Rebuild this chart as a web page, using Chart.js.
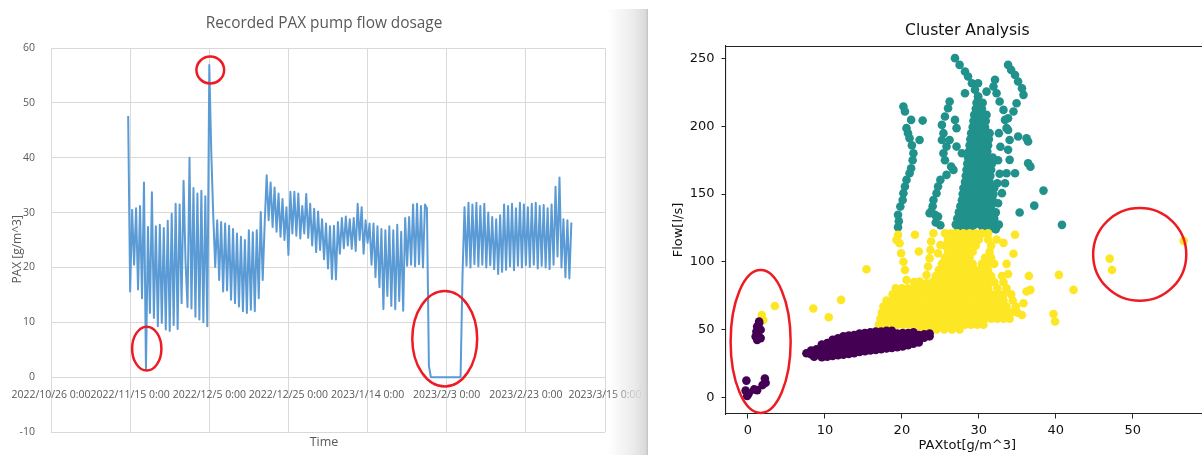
<!DOCTYPE html>
<html>
<head>
<meta charset="utf-8">
<title>PAX dosage and cluster analysis</title>
<script src="https://cdn.jsdelivr.net/npm/chart.js@4.4.1/dist/chart.umd.min.js"></script>
<style>
  html, body { margin: 0; padding: 0; background: #fff; overflow: hidden; }
  #wrap { position: relative; width: 1202px; height: 455px; overflow: hidden; background: #fff; }
  #pax { position: absolute; left: 0; top: 0; width: 648px; height: 455px; }
  #cluster { position: absolute; left: 648px; top: 0; width: 567px; height: 455px; }
  #divider {
    position: absolute; left: 608px; top: 9px; width: 40px; height: 446px;
    background: linear-gradient(to right, rgba(236,236,236,0) 0%, rgba(230,230,230,0.8) 65%, #dadada 94%, #c2c2c2 100%);
  }
</style>
</head>
<body>
<div id="wrap">
  <canvas id="pax" width="648" height="455"></canvas>
  <div id="divider"></div>
  <canvas id="cluster" width="567" height="455"></canvas>
</div>
<script>
// ---------- Recorded PAX pump flow dosage ----------
// x axis: days after 2022/10/26 0:00
const timeTickDays = [0, 20, 40, 60, 80, 100, 120, 140];
const timeTickLabels = ['2022/10/26 0:00', '2022/11/15 0:00', '2022/12/5 0:00', '2022/12/25 0:00',
                        '2023/1/14 0:00', '2023/2/3 0:00', '2023/2/23 0:00', '2023/3/15 0:00'];
const paxTicks = [-10, 0, 10, 20, 30, 40, 50, 60];

const paxFirstDay = 19.5;  // first logged reading (2022/11/14 12:00)
const paxStepDays = 0.5;   // one reading every 12 hours
// PAX dosage [g/m^3]
const paxValues = [
  47.6, 15.6, 30.5, 20.5, 30.8, 16.0, 31.2, 14.4, 35.5, 1.5,
  27.4, 11.7, 33.7, 10.8, 27.5, 9.3, 27.8, 9.9, 27.2, 8.7,
  28.5, 8.4, 29.8, 9.5, 31.6, 8.8, 31.5, 13.5, 35.8, 21.0,
  12.8, 40.0, 12.5, 34.5, 11.0, 33.5, 10.5, 34.0, 10.0, 33.0,
  9.3, 56.9, 41.0, 29.5, 20.1, 28.6, 17.7, 28.3, 15.6, 28.0,
  15.8, 27.6, 14.1, 27.0, 13.5, 26.2, 12.9, 25.6, 12.0, 25.0,
  11.7, 26.8, 12.3, 26.4, 12.0, 26.8, 14.4, 30.1, 17.7, 28.0,
  36.8, 28.6, 35.5, 27.4, 34.6, 26.5, 33.5, 25.6, 32.5, 25.0,
  31.0, 22.3, 33.8, 26.2, 33.8, 25.8, 33.5, 25.3, 31.2, 26.2,
  33.4, 25.4, 31.6, 24.0, 30.7, 22.8, 30.2, 23.2, 28.8, 21.5,
  28.0, 19.8, 27.5, 17.9, 27.6, 17.8, 28.3, 22.5, 29.0, 23.5,
  29.3, 24.0, 28.8, 23.4, 29.0, 23.0, 31.6, 25.0, 31.0, 22.5,
  28.6, 24.5, 28.0, 20.5, 28.0, 18.2, 27.5, 16.4, 27.0, 12.4,
  26.8, 14.8, 27.5, 13.0, 26.8, 12.4, 27.8, 13.9, 26.5, 12.1,
  29.0, 20.3, 29.2, 20.5, 31.5, 20.2, 31.6, 20.6, 31.2, 20.0,
  31.5, 30.8, 2.0, 0, 0, 0, 0, 0, 0, 0,
  0, 0, 0, 0, 0, 0, 0, 0, 0, 18.8,
  31.0, 20.3, 31.8, 20.0, 31.5, 20.6, 31.8, 20.2, 31.2, 20.5,
  31.6, 20.0, 30.0, 20.4, 29.2, 19.7, 28.8, 18.8, 29.5, 19.2,
  31.5, 19.6, 31.2, 20.2, 31.6, 19.5, 30.8, 20.3, 31.8, 20.0,
  31.5, 20.4, 31.0, 20.1, 31.6, 20.5, 31.8, 19.8, 31.2, 20.3,
  31.4, 20.0, 30.8, 19.7, 31.5, 20.5, 34.7, 22.0, 36.4, 20.0,
  28.8, 18.2, 28.6, 18.0, 28.2
];

// ---------- Cluster Analysis ----------
const paxTotTicks = [0, 10, 20, 30, 40, 50];
const flowTicks = [0, 50, 100, 150, 200, 250];

// low-flow cluster: [PAXtot, Flow]
const lowFlowPoints = [
  [1.0,44.9],[1.2,42.4],[1.65,43.7],[1.1,48.5],[1.65,49.8],[1.2,52.2],[1.45,54.7],[1.45,55.9],
  [-0.2,12.3],[-0.3,4.9],[0.1,2.9],[-0.1,0.9],[0.8,5.8],[1.2,5.3],[1.9,9.0],[2.2,13.9],[2.3,10.7],
  [7.6,32.5],[8.2,31.8],[8.2,34.5],[8.6,30.0],[8.9,32],[8.9,35.5],[9.6,29.5],[9.6,32.5],[9.6,36],[9.6,39],
  [10.3,30],[10.3,33],[10.3,36.5],[10.3,40],[11.0,30.5],[11.0,33.5],[11.0,37],[11.0,40.5],[11.0,42.5],
  [11.7,31],[11.7,34],[11.7,37.5],[11.7,41],[11.7,43.5],[12.4,31.5],[12.4,34.5],[12.4,38],[12.4,41.5],[12.4,45],
  [13.1,32],[13.1,35],[13.1,38.5],[13.1,42],[13.1,45.5],[13.8,32.5],[13.8,35.5],[13.8,39],[13.8,42.5],[13.8,46],
  [14.5,33.5],[14.5,36.5],[14.5,40],[14.5,43.5],[14.5,47],[15.2,34],[15.2,37],[15.2,40.5],[15.2,44],[15.2,47.5],
  [15.9,34.5],[15.9,37.5],[15.9,41],[15.9,44.5],[15.9,48],[16.6,35],[16.6,38],[16.6,41.5],[16.6,45],[16.6,48.5],
  [17.3,35.5],[17.3,38.5],[17.3,42],[17.3,45.5],[17.3,48.5],[18.0,36],[18.0,39],[18.0,42.5],[18.0,46],[18.0,49],
  [18.7,36.5],[18.7,39.5],[18.7,43],[18.7,46.5],[18.7,49],[19.4,37],[19.4,40],[19.4,43.5],[19.4,47],
  [20.1,37.5],[20.1,40.5],[20.1,44],[20.1,47.5],[20.8,38.5],[20.8,41.5],[20.8,44.5],[20.8,47.5],
  [21.5,39.5],[21.5,42],[21.5,45],[21.5,48],[22.2,40.5],[22.2,43],[22.2,46],[22.9,44],[22.9,46.5],[23.6,45],[23.6,47]
];

// mid-flow cluster: scattered readings [PAXtot, Flow]
const midFlowPoints = [
  [1.8,60.8],[2.0,57.1],[3.5,67.4],[8.5,65.5],[10.5,59.1],[12.1,71.9],[15.4,94.5],
  [36.5,89.6],[36.7,79.3],[40.4,90.4],[42.3,79.3],[39.7,61.5],[39.9,56],
  [47.0,102.4],[47.3,94],[56.6,115.5],
  [19.5,119.9],[19.3,116.2],[19.7,113.7],[19.9,106.3],[20.2,100.1],[20.4,94],[20.6,86.6],
  [21.7,120],[22.2,107.6],[22.3,85.4],[22.8,83],
  [24.1,121.1],[23.8,115],[23.7,108.8],[23.6,102.6],[23.4,96.5],[23.2,90.3],[23.2,84.2],
  [25.0,112.4],[24.7,106.3],[34.7,120],[33.2,114],[32.3,116.5],[34.5,106],[33.6,98.5],[33.8,91],
  [36.2,78.1],[35.8,69.4],[35.6,60.8]
];
// mid-flow cluster, dense part: [Flow, [PAXtot readings at that flow]]
const midFlowRows = [
  [121,   [25.6,26.4,27.2,28.0,28.8,29.6,30.4,31.2]],
  [116.5, [26.0,26.8,27.6,28.4,29.2,30.0,31.2]],
  [112,   [25.6,26.4,27.2,28.0,28.8,29.6,31.6]],
  [107.5, [26.0,26.8,27.6,28.4,29.2,31.4]],
  [103,   [25.6,26.4,27.2,28.0,28.8,30.8,31.6]],
  [98.5,  [25.2,26.0,26.8,27.6,28.4,29.2,30.4,31.2,32.0]],
  [94,    [24.8,25.6,26.4,27.2,28.0,28.8,29.6,30.4,31.2]],
  [89.5,  [24.4,25.2,26.0,26.8,27.6,28.4,29.2,30.0,30.8,31.6,33.0]],
  [85,    [21.6,24.0,24.8,25.6,26.4,27.2,28.0,28.8,29.6,30.4,31.2,32.0,33.2]],
  [80.5,  [19.2,20.0,20.8,21.6,22.4,23.2,24.0,24.8,25.6,26.4,27.2,28.0,28.8,29.6,30.4,31.2,32.4,33.6]],
  [76,    [18.8,19.6,20.4,21.2,22.0,22.8,23.6,24.4,25.2,26.0,26.8,27.6,28.4,29.2,30.0,30.8,31.6,32.4,33.2,34.2]],
  [71.5,  [18.0,18.8,19.6,20.4,21.2,22.0,22.8,23.6,24.4,25.2,26.0,26.8,27.6,28.4,29.2,30.0,30.8,31.6,32.4,33.2,34.4]],
  [67,    [17.6,18.4,19.2,20.0,20.8,21.6,22.4,23.2,24.0,24.8,25.6,26.4,27.2,28.0,28.8,29.6,30.4,31.2,32.0,32.8,33.6,34.8]],
  [62.5,  [17.4,18.2,19.0,19.8,20.6,21.4,22.2,23.0,23.8,24.6,25.4,26.2,27.0,27.8,28.6,29.4,30.2,31.0,31.8,32.6,33.4,34.2,35.0]],
  [58,    [17.2,18.0,18.8,19.6,20.4,21.2,22.0,22.8,23.6,24.4,25.2,26.0,26.8,27.6,28.4,29.2,30.0,30.8,31.6,32.4,33.2,34.0]],
  [53.5,  [17.0,17.8,18.6,19.4,20.2,21.0,21.8,22.6,23.4,24.2,25.0,25.8,26.6,27.4,28.2,29.0,29.8,30.6]],
  [50,    [22.5,23.5,24.5,25.5,26.5,27.5]]
];

// high-flow cluster: scattered readings [PAXtot, Flow]
const highFlowPoints = [
  [20.2,214.7],[20.4,211],[21.2,204.8],[22.7,204.3],[20.6,198.7],[20.8,195],[21.0,191.3],[22.3,190],
  [21.3,186],[21.5,180.2],[21.4,175],[21.2,169.1],[21.0,165.4],[20.6,160.5],[20.4,155.6],[20.2,150.7],
  [20.1,145.7],[19.8,140.8],[19.5,134.7],[19.6,130],[19.5,125.5],
  [26.2,218.4],[26.0,213.4],[25.6,207.3],[26.9,204.8],[27.1,198.7],[25.2,201.1],[25.4,195],[25.2,190],
  [26.2,190],[25.8,185.1],[27.1,185.1],[27.8,180.2],[25.4,180.2],[25.6,175],[26.4,170.3],[26.7,167.9],
  [25.8,164.2],[25.0,160.5],[24.7,155.6],[24.5,150.7],[24.1,145.7],[24.0,141],[23.8,137.1],[24.3,134.7],
  [23.6,135.9],[24.7,133.4],[24.4,129],[25.0,127],
  [26.9,250.4],[27.5,245.4],[28.2,240.5],[28.6,236.8],[29.1,231.9],[29.5,227],[29.9,222.1],[28.2,224.5],
  [29.9,231.9],[31.0,225.7],[32.1,234.4],[31.9,229.4],[32.3,224.5],[32.7,218.4],[33.2,212.2],[33.4,204.8],
  [33.6,198.7],
  [33.8,245.4],[34.2,241.7],[34.7,238],[35.1,233.1],[35.6,228.2],[35.8,223.3],[34.9,217.1],[34.5,211],
  [33.8,206],[33.8,197.4],[34.0,190],[33.8,182.7],[34.0,175.3],[33.6,165.4],[33.4,158],[33.0,150.7],
  [32.5,143.3],[32.1,135.9],[31.9,129.7],[32.6,195],[32.8,185],[32.5,175],[32.7,165],[32.4,158],
  [35.1,192.5],[36.2,191.3],[36.4,188.8],[36.4,172.8],[36.7,170.3],[34.7,165.4],[38.4,152.6],
  [37.2,141.5],[35.3,136.4],[40.8,127.3]
];
// high-flow cluster, dense part: [Flow, [PAXtot readings at that flow]]
const highFlowRows = [
  [222,   [29.9]],
  [217.5, [29.7,30.5]],
  [213,   [29.6,30.4]],
  [208.5, [29.4,30.2,31.0]],
  [204,   [29.3,30.1,30.9]],
  [199.5, [29.2,30.0,30.8]],
  [195,   [29.0,29.8,30.6,31.4]],
  [190.5, [28.9,29.7,30.5,31.3]],
  [186,   [28.8,29.6,30.4,31.2]],
  [181.5, [28.7,29.5,30.3,31.1]],
  [177,   [28.6,29.4,30.2,31.0,31.8]],
  [172.5, [28.5,29.3,30.1,30.9,31.7]],
  [168,   [28.4,29.2,30.0,30.8,31.6]],
  [163.5, [28.3,29.1,29.9,30.7,31.5]],
  [159,   [28.2,29.0,29.8,30.6,31.4]],
  [154.5, [28.0,28.8,29.6,30.4,31.2,32.0]],
  [150,   [27.9,28.7,29.5,30.3,31.1,31.9]],
  [145.5, [27.8,28.6,29.4,30.2,31.0,31.8]],
  [141,   [27.6,28.4,29.2,30.0,30.8,31.6]],
  [136.5, [27.4,28.2,29.0,29.8,30.6,31.4,32.2]],
  [132,   [27.2,28.0,28.8,29.6,30.4,31.2,32.0]],
  [127.5, [27.0,27.8,28.6,29.4,30.2,31.0,31.8,32.6]],
  [124,   [27.4,28.2,29.0,30.6,31.4,32.2]]
];

// ---------- helpers ----------
const pairsToPoints = pairs => pairs.map(([x, y]) => ({ x, y }));
const rowsToPoints = rows => rows.flatMap(([y, xs]) => xs.map(x => ({ x, y })));

// red rings marking notable readings (drawn in data units)
const ringPlugin = {
  id: 'rings',
  afterDraw(chart, args, opts) {
    const { ctx, scales: { x, y } } = chart;
    ctx.save();
    ctx.strokeStyle = opts.color;
    ctx.lineWidth = opts.width;
    for (const r of opts.items) {
      const cx = x.getPixelForValue(r.x);
      const cy = y.getPixelForValue(r.y);
      const rx = Math.abs(x.getPixelForValue(r.x + r.rx) - cx);
      const ry = Math.abs(y.getPixelForValue(r.y + r.ry) - cy);
      ctx.beginPath();
      ctx.ellipse(cx, cy, rx, ry, 0, 0, Math.PI * 2);
      ctx.stroke();
    }
    ctx.restore();
  }
};

// closes the axes box (top and right spines)
const framePlugin = {
  id: 'frame',
  beforeDatasetsDraw(chart, args, opts) {
    const { ctx, chartArea: a } = chart;
    ctx.save();
    ctx.strokeStyle = opts.color;
    ctx.lineWidth = opts.width;
    ctx.beginPath();
    ctx.moveTo(a.left, a.top + 0.5);
    ctx.lineTo(a.right, a.top + 0.5);
    ctx.lineTo(a.right, a.bottom);
    ctx.stroke();
    ctx.restore();
  }
};

const excelGray = '#595959';
const excelFont = "'Open Sans', 'Noto Sans', sans-serif";

// ---------- left: line chart ----------
new Chart(document.getElementById('pax'), {
  type: 'line',
  data: {
    datasets: [{
      data: paxValues.map((v, i) => ({ x: paxFirstDay + i * paxStepDays, y: v })),
      borderColor: '#5b9bd5',
      borderWidth: 2,
      pointRadius: 0,
      tension: 0,
      fill: false,
      borderJoinStyle: 'round'
    }]
  },
  plugins: [ringPlugin],
  options: {
    responsive: false,
    animation: false,
    events: [],
    layout: { padding: 0 },
    plugins: {
      legend: { display: false },
      tooltip: { enabled: false },
      title: {
        display: true,
        text: 'Recorded PAX pump flow dosage',
        color: excelGray,
        font: { family: excelFont, size: 15.4, weight: 'normal' },
        padding: { top: 14.8, bottom: 14.8 }
      },
      subtitle: {
        display: true,
        position: 'bottom',
        text: 'Time',
        color: excelGray,
        font: { family: excelFont, size: 12.5, weight: 'normal' },
        padding: { top: 2.5, bottom: 5.5 }
      },
      rings: {
        color: '#ed1c24',
        width: 2.5,
        items: [
          { x: 24.2, y: 5.2, rx: 3.7, ry: 4.0 },
          { x: 40.25, y: 56.0, rx: 3.5, ry: 2.45 },
          { x: 99.5, y: 7.0, rx: 8.2, ry: 8.7 }
        ]
      }
    },
    scales: {
      x: {
        type: 'linear',
        position: { y: 0 },
        min: timeTickDays[0],
        max: timeTickDays[timeTickDays.length - 1],
        afterBuildTicks: s => { s.ticks = timeTickDays.map(v => ({ value: v })); },
        afterFit: s => { s.height = 0; s.paddingLeft = 0; s.paddingRight = 43; },
        ticks: {
          autoSkip: false,
          maxRotation: 0,
          padding: 12,
          color: excelGray,
          font: { family: excelFont, size: 10.5 },
          callback: (v, i) => timeTickLabels[i]
        },
        grid: { color: '#d9d9d9', lineWidth: 1, drawTicks: false },
        border: { display: false }
      },
      y: {
        min: paxTicks[0],
        max: paxTicks[paxTicks.length - 1],
        afterBuildTicks: s => { s.ticks = paxTicks.map(v => ({ value: v })); },
        afterFit: s => { s.width = 51; },
        ticks: {
          padding: 16,
          color: excelGray,
          font: { family: excelFont, size: 10.5 }
        },
        grid: { color: '#d9d9d9', lineWidth: 1, drawTicks: false },
        border: { display: false },
        title: {
          display: true,
          text: 'PAX [g/m^3]      ',
          color: excelGray,
          font: { family: excelFont, size: 12 },
          padding: { top: 10, bottom: 0 }
        }
      }
    }
  }
});

// ---------- right: scatter ----------
const mplFont = "'DejaVu Sans', sans-serif";
const mplText = '#111';

new Chart(document.getElementById('cluster'), {
  type: 'scatter',
  data: {
    datasets: [
      { label: 'low', data: pairsToPoints(lowFlowPoints), backgroundColor: '#440154' },
      { label: 'mid', data: pairsToPoints(midFlowPoints).concat(rowsToPoints(midFlowRows)), backgroundColor: '#fde725' },
      { label: 'high', data: pairsToPoints(highFlowPoints).concat(rowsToPoints(highFlowRows)), backgroundColor: '#21918c' }
    ].map(d => Object.assign(d, { pointRadius: 4.3, pointBorderWidth: 0, borderWidth: 0, pointHoverRadius: 4.3 }))
  },
  plugins: [framePlugin, ringPlugin],
  options: {
    responsive: false,
    animation: false,
    events: [],
    layout: { padding: { left: 0, right: 6.4, top: 0, bottom: 0 } },
    plugins: {
      legend: { display: false },
      tooltip: { enabled: false },
      title: {
        display: true,
        fullSize: false,
        text: 'Cluster Analysis',
        color: mplText,
        font: { family: mplFont, size: 15.6, weight: 'normal' },
        padding: { top: 21.6, bottom: 5.7 }
      },
      frame: { color: '#222', width: 1.1 },
      rings: {
        color: '#ed1c24',
        width: 2.5,
        items: [
          { x: 1.65, y: 41.2, rx: 3.9, ry: 52.8 },
          { x: 50.9, y: 105.5, rx: 6.05, ry: 34.3 }
        ]
      }
    },
    scales: {
      x: {
        type: 'linear',
        min: -2.85,
        max: 59.85,
        afterBuildTicks: s => { s.ticks = paxTotTicks.map(v => ({ value: v })); },
        afterFit: s => { s.height = 41; },
        ticks: { padding: 4, color: mplText, font: { family: mplFont, size: 13 }, maxRotation: 0, autoSkip: false },
        grid: { drawOnChartArea: false, drawTicks: true, tickLength: 4.5, color: '#222', lineWidth: 1 },
        border: { display: true, color: '#222', width: 1.1 },
        title: {
          display: true,
          text: 'PAXtot[g/m^3]',
          color: mplText,
          font: { family: mplFont, size: 13 },
          padding: { top: 0, bottom: 1.2 }
        }
      },
      y: {
        type: 'linear',
        min: -12.35,
        max: 259.35,
        afterBuildTicks: s => { s.ticks = flowTicks.map(v => ({ value: v })); },
        afterFit: s => { s.width = 78; },
        ticks: { padding: 7, color: mplText, font: { family: mplFont, size: 13 } },
        grid: { drawOnChartArea: false, drawTicks: true, tickLength: 4.5, color: '#222', lineWidth: 1 },
        border: { display: true, color: '#222', width: 1.1 },
        title: {
          display: true,
          text: 'Flow[l/s]',
          color: mplText,
          font: { family: mplFont, size: 13 },
          padding: { top: 23.2, bottom: 0 }
        }
      }
    }
  }
});
</script>
</body>
</html>
